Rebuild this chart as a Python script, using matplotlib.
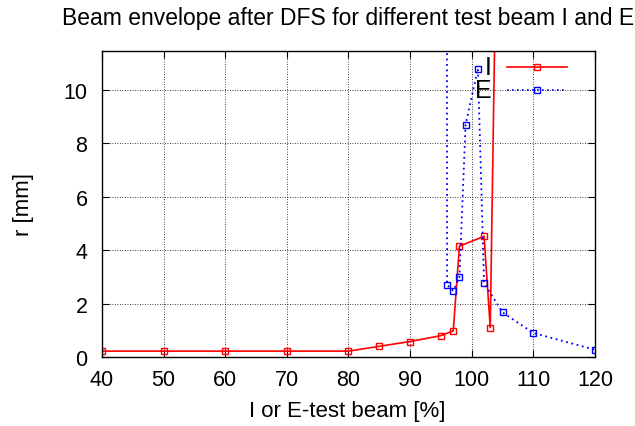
import matplotlib
matplotlib.use("Agg")
import matplotlib.pyplot as plt

plt.rcParams['font.family'] = ['Liberation Sans', 'DejaVu Sans']

# test beam I scan
i_beam = [40, 50, 60, 70, 80, 85, 90, 95, 97, 98, 102, 103, 104]
i_r = [0.22, 0.22, 0.22, 0.22, 0.22, 0.4, 0.58, 0.8, 0.98, 4.15, 4.52, 1.1, 16.0]

# test beam E scan
e_beam = [95, 96, 97, 98, 99, 101, 102, 105, 110, 120]
e_r = [500.0, 2.7, 2.48, 2.98, 8.7, 10.8, 2.77, 1.67, 0.9, 0.27]

fig = plt.figure(figsize=(6.35, 4.27), dpi=100)
ax = fig.add_axes([0.1606, 0.1616, 0.7764, 0.7166])

ax.plot(i_beam, i_r, color='#ff0000', lw=1.2, marker='s', ms=4.5,
        mfc='none', mec='#ff0000', mew=1.0)
ax.plot(e_beam, e_r, color='#0000ff', lw=1.3, ls=(0, (1, 2)), marker='s', ms=4.5,
        mfc='none', mec='#0000ff', mew=1.0)

ax.set_xlim(40, 120)
ax.set_ylim(0, 11.46)
ax.set_xticks(range(40, 121, 10))
ax.set_yticks(range(0, 11, 2))
ax.grid(True, color='black', ls=(0, (1, 2)), lw=0.6)
ax.tick_params(direction='in', top=True, right=True, length=5, width=0.8,
               labelsize=15.5)
ax.tick_params(axis='x', pad=8.5)
ax.tick_params(axis='y', pad=10.5)
for s in ax.spines.values():
    s.set_linewidth(1.0)

fig.text(347 / 635, 1 - 412 / 427, 'I or E-test beam [%]', ha='center', va='center', fontsize=16)
fig.text(23 / 635, 1 - 205 / 427, 'r [mm]', ha='center', va='center', rotation=90, fontsize=16)
fig.text(348 / 635, 1 - 18 / 427, 'Beam envelope after DFS for different test beam I and E',
         ha='center', va='center', fontsize=16.5)

# key in the upper right corner
kx0, kx1 = 507, 567
for yk, lab, col, ls in [(68, 'I', '#ff0000', '-'), (91, 'E', '#0000ff', (0, (1, 2)))]:
    yf = 1 - yk / 427
    fig.add_artist(plt.Line2D([kx0 / 635, kx1 / 635], [yf, yf], color=col, lw=1.2, ls=ls))
    fig.add_artist(plt.Line2D([537 / 635], [yf], color=col, marker='s', ms=4.5,
                              mfc='none', mec=col, mew=1.0))
    fig.text(492 / 635, yf, lab, ha='right', va='center', fontsize=18)

fig.savefig('out.png', dpi=100)
